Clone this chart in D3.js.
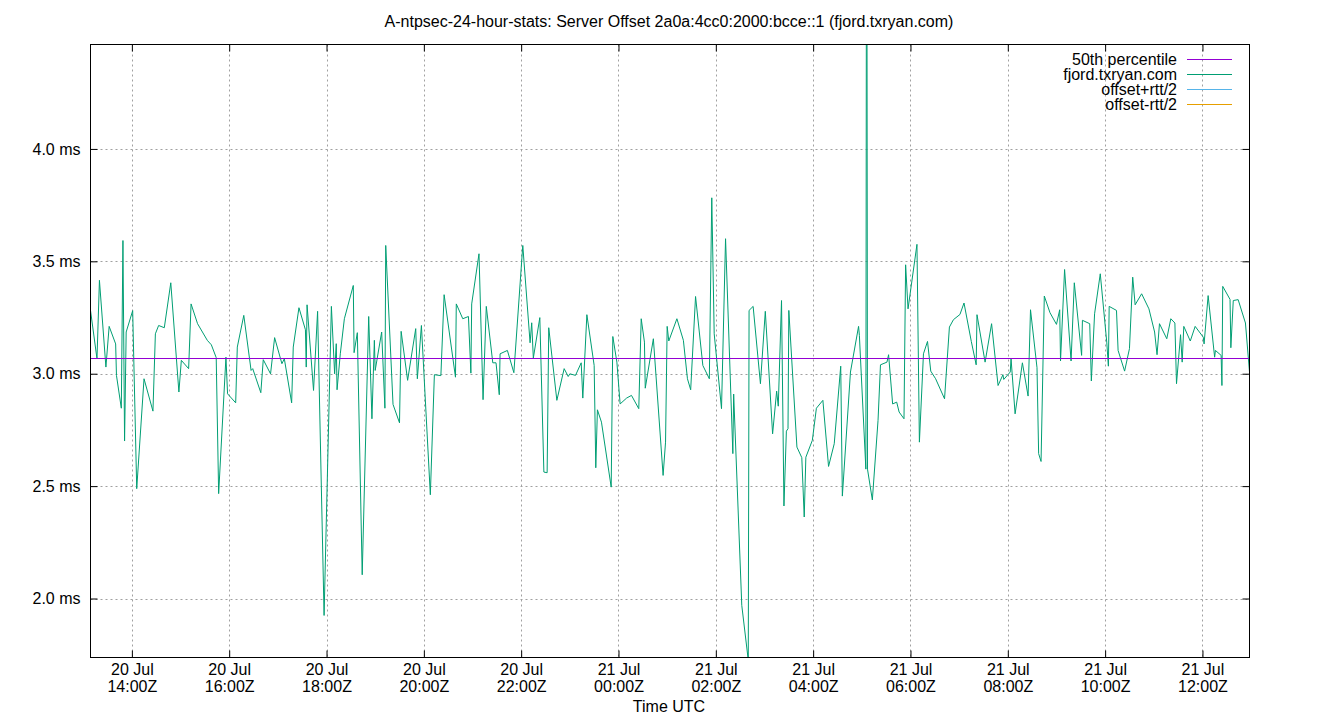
<!DOCTYPE html>
<html>
<head>
<meta charset="utf-8">
<script src="https://cdn.jsdelivr.net/npm/d3@7"></script>
<style>
  html, body { margin: 0; padding: 0; background: #fff; }
  svg { display: block; font-family: "Liberation Sans", Arial, sans-serif; }
</style>
</head>
<body>
<svg id="chart" width="1340" height="720"></svg>
<script>
// ---------------- data ----------------
const titleText = "A-ntpsec-24-hour-stats: Server Offset 2a0a:4cc0:2000:bcce::1 (fjord.txryan.com)";
const xAxisLabel = "Time UTC";
const startDate = Date.UTC(2024, 6, 20, 0, 0); // 20 Jul 00:00Z

// minutes since 20 Jul 00:00Z
const sampleMinutes = [
  789, 797, 800, 808, 812, 820, 821, 827, 829, 831, 833, 841, 846, 855, 866, 869, 873, 880, 888, 898,
  901, 910, 913, 921, 933, 938, 944, 947, 956, 958, 968, 970, 978, 987, 989, 999, 1002, 1011, 1016, 1025,
  1028, 1037, 1039, 1046, 1054, 1055, 1056, 1064, 1069, 1077, 1086, 1090, 1092, 1093, 1097, 1102, 1113, 1114, 1118, 1124,
  1132, 1136, 1139, 1140, 1148, 1152, 1153, 1162, 1170, 1172, 1180, 1190, 1192, 1197, 1208, 1213, 1221, 1225, 1239, 1240,
  1248, 1255, 1258, 1259, 1268, 1273, 1277, 1285, 1289, 1293, 1294, 1303, 1311, 1322, 1331, 1333, 1335, 1343, 1348, 1352,
  1354, 1364, 1373, 1378, 1380, 1387, 1394, 1396, 1401, 1410, 1412, 1414, 1419, 1431, 1433, 1438, 1442, 1450, 1456, 1465,
  1468, 1472, 1473, 1483, 1495, 1498, 1500, 1502, 1512, 1520, 1525, 1529, 1535, 1544, 1552, 1555, 1558, 1567, 1572, 1581,
  1582, 1592, 1600, 1601, 1606, 1615, 1621, 1630, 1635, 1637, 1641, 1644, 1647, 1649, 1650, 1660, 1666, 1669, 1671, 1679,
  1684, 1692, 1699, 1706, 1714, 1716, 1726, 1736, 1737, 1745, 1746, 1747, 1753, 1760, 1763, 1771, 1773, 1778, 1783, 1786,
  1792, 1794, 1797, 1808, 1811, 1816, 1821, 1825, 1831, 1842, 1848, 1853, 1861, 1866, 1875, 1881, 1882, 1892, 1900, 1908,
  1914, 1915, 1923, 1924, 1929, 1938, 1945, 1948, 1956, 1958, 1961, 1965, 1972, 1980, 1984, 1985, 1990, 1998, 2002, 2011,
  2012, 2021, 2023, 2027, 2034, 2042, 2044, 2045, 2054, 2056, 2064, 2070, 2074, 2077, 2085, 2094, 2101, 2104, 2107, 2116,
  2121, 2126, 2128, 2133, 2135, 2137, 2145, 2151, 2161, 2162, 2167, 2175, 2176, 2183, 2184, 2185, 2194, 2195, 2198, 2204,
  2213, 2218
];

// server offset, ms
const offsetMs = [
  3.286, 3.071, 3.420, 3.034, 3.215, 3.137, 2.997, 2.851, 3.597, 2.705, 3.190, 3.285, 2.493, 2.982, 2.838, 3.182, 3.219, 3.209, 3.409, 2.923,
  3.064, 3.027, 3.315, 3.227, 3.153, 3.133, 3.076, 2.471, 3.078, 2.915, 2.875, 3.123, 3.264, 3.019, 3.027, 2.920, 3.067, 3.004, 3.165, 3.049,
  3.071, 2.875, 3.123, 3.298, 3.200, 3.034, 3.311, 2.930, 3.282, 1.929, 3.304, 3.004, 3.138, 2.933, 3.093, 3.249, 3.397, 3.098, 3.187, 2.110,
  3.259, 2.804, 3.153, 3.019, 3.190, 2.851, 3.575, 2.868, 2.786, 3.193, 2.975, 3.205, 2.982, 3.219, 2.466, 3.000, 2.996, 3.356, 2.989, 3.315,
  3.249, 3.259, 3.007, 3.315, 3.538, 2.889, 3.304, 3.053, 3.053, 2.911, 3.093, 3.108, 3.009, 3.575, 3.142, 3.231, 3.074, 3.254, 2.567, 2.564,
  3.209, 2.886, 3.027, 2.992, 3.004, 2.997, 3.053, 2.896, 3.267, 3.041, 2.586, 2.844, 2.789, 2.500, 3.170, 3.056, 2.870, 2.896, 2.908, 2.849,
  3.249, 3.145, 2.940, 3.160, 2.552, 2.700, 3.215, 3.150, 3.249, 3.153, 2.982, 2.933, 3.348, 3.041, 2.982, 3.787, 3.182, 2.849, 3.605, 2.649,
  2.914, 1.974, 1.730, 3.286, 3.304, 2.960, 3.282, 2.737, 2.927, 2.860, 3.330, 2.416, 2.749, 2.760, 3.286, 2.678, 2.631, 2.367, 2.633, 2.708,
  2.851, 2.886, 2.592, 2.693, 3.038, 2.460, 3.012, 3.215, 3.175, 2.580, 6.000, 2.580, 2.443, 2.797, 3.044, 3.056, 3.089, 2.870, 2.878, 2.834,
  2.804, 3.489, 3.293, 3.580, 2.700, 3.093, 3.148, 3.016, 2.982, 2.893, 3.212, 3.245, 3.268, 3.319, 3.148, 3.044, 3.267, 3.056, 3.227, 2.952,
  3.000, 2.979, 3.012, 3.071, 2.826, 3.053, 2.905, 3.289, 3.031, 2.649, 2.614, 3.350, 3.276, 3.224, 3.289, 3.061, 3.468, 3.061, 3.409, 3.086,
  3.242, 3.227, 2.972, 3.271, 3.449, 3.145, 3.038, 3.304, 3.286, 3.108, 3.016, 3.116, 3.434, 3.311, 3.360, 3.293, 3.190, 3.089, 3.227, 3.160,
  3.249, 3.230, 2.960, 3.178, 3.056, 3.215, 3.150, 3.215, 3.167, 3.137, 3.352, 3.078, 3.108, 3.086, 2.952, 3.393, 3.335, 3.120, 3.330, 3.334,
  3.230, 3.012
];

const percentile50 = 3.0756;
const yDomain = [1.742, 4.469];
const yTickValues = [2.0, 2.5, 3.0, 3.5, 4.0];
const legendLabels = ["50th percentile", "fjord.txryan.com", "offset+rtt/2", "offset-rtt/2"];
const legendColors = ["#9400d3", "#009e73", "#56b4e9", "#e69f00"];

(function () {
  const svg = d3.select("#chart");
  const pL = 90.5, pR = 1249.5, pT = 44.5, pB = 657.5;
  const FONT = "Liberation Sans, Arial, sans-serif";
  const fontSize = "16px";

  const points = sampleMinutes.map((m, i) => ({ t: new Date(startDate + m * 60000), v: offsetMs[i] }));

  const x = d3.scaleUtc().domain(d3.extent(points, d => d.t)).range([pL, pR]);
  const y = d3.scaleLinear().domain(yDomain).range([pB, pT]);

  const xTicks = x.ticks(d3.utcHour.every(2)).filter(d => d.getUTCHours() % 2 === 0);

  // gridlines
  const grid = svg.append("g").attr("stroke", "#a0a0a0").attr("stroke-width", 1).attr("stroke-dasharray", "2,3");
  grid.selectAll("line.gy").data(yTickValues).join("line").attr("class", "gy")
    .attr("x1", pL).attr("x2", pR)
    .attr("y1", d => Math.round(y(d)) - 0.5).attr("y2", d => Math.round(y(d)) - 0.5);
  grid.selectAll("line.gx").data(xTicks).join("line").attr("class", "gx")
    .attr("x1", d => Math.round(x(d)) + 0.5).attr("x2", d => Math.round(x(d)) + 0.5)
    .attr("y1", pT).attr("y2", pB);

  // clip
  svg.append("clipPath").attr("id", "plotclip").append("rect")
    .attr("x", pL).attr("y", pT).attr("width", pR - pL).attr("height", pB - pT);
  const plot = svg.append("g").attr("clip-path", "url(#plotclip)");

  plot.append("path")
    .datum(points)
    .attr("fill", "none")
    .attr("stroke", legendColors[1])
    .attr("stroke-width", 1)
    .attr("d", d3.line().x(d => x(d.t)).y(d => y(d.v)));

  plot.append("line")
    .attr("x1", pL).attr("x2", pR)
    .attr("y1", Math.round(y(percentile50)) + 0.5).attr("y2", Math.round(y(percentile50)) + 0.5)
    .attr("stroke", legendColors[0]).attr("stroke-width", 1);

  // axes
  const yAxis = svg.append("g").attr("transform", `translate(${pL},-1)`)
    .call(d3.axisLeft(y).tickValues(yTickValues).tickSizeInner(-7).tickSizeOuter(0).tickPadding(10)
      .tickFormat(d => d.toFixed(1) + " ms"));
  yAxis.select(".domain").remove();
  yAxis.selectAll("text").attr("font-size", fontSize).attr("fill", "#000").attr("font-family", FONT);
  yAxis.selectAll("line").attr("stroke", "#000");

  const yAxisR = svg.append("g").attr("transform", `translate(${pR},-1)`)
    .call(d3.axisRight(y).tickValues(yTickValues).tickSizeInner(-7).tickSizeOuter(0).tickFormat(""));
  yAxisR.select(".domain").remove();
  yAxisR.selectAll("line").attr("stroke", "#000");

  const xAxis = svg.append("g").attr("transform", `translate(0,${pB})`)
    .call(d3.axisBottom(x).tickValues(xTicks).tickSizeInner(-7).tickSizeOuter(0).tickFormat(""));
  xAxis.select(".domain").remove();
  xAxis.selectAll("line").attr("stroke", "#000");
  xAxis.selectAll(".tick").each(function (d) {
    const g = d3.select(this);
    const t = g.append("text").attr("text-anchor", "middle").attr("fill", "#000")
      .attr("font-size", fontSize).attr("font-family", FONT);
    t.append("tspan").attr("x", 0).attr("y", 17.5).text(d3.utcFormat("%d %b")(d));
    t.append("tspan").attr("x", 0).attr("y", 34.5).text(d3.utcFormat("%H:%MZ")(d));
  });

  const xAxisT = svg.append("g").attr("transform", `translate(0,${pT})`)
    .call(d3.axisTop(x).tickValues(xTicks).tickSizeInner(-7).tickSizeOuter(0).tickFormat(""));
  xAxisT.select(".domain").remove();
  xAxisT.selectAll("line").attr("stroke", "#000");

  // border
  svg.append("rect")
    .attr("x", pL).attr("y", pT).attr("width", pR - pL).attr("height", pB - pT)
    .attr("fill", "none").attr("stroke", "#000").attr("stroke-width", 1);

  // title & axis label
  svg.append("text").attr("x", 669).attr("y", 26.5).attr("text-anchor", "middle")
    .attr("font-size", fontSize).attr("fill", "#000").text(titleText);
  svg.append("text").attr("x", 669).attr("y", 711.5).attr("text-anchor", "middle")
    .attr("font-size", fontSize).attr("fill", "#000").text(xAxisLabel);

  // legend
  const legend = svg.append("g");
  legendLabels.forEach((lab, i) => {
    const ly = 59.5 + i * 15;
    legend.append("text").attr("x", 1177).attr("y", ly + 5.5).attr("text-anchor", "end")
      .attr("font-size", fontSize).attr("fill", "#000").text(lab);
    legend.append("line").attr("x1", 1187).attr("x2", 1232).attr("y1", ly).attr("y2", ly)
      .attr("stroke", legendColors[i]).attr("stroke-width", 1);
  });
})();
</script>
</body>
</html>
